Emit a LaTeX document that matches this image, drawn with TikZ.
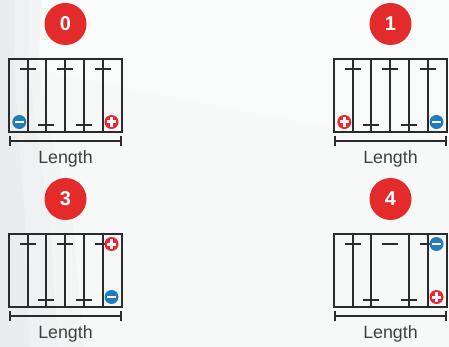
\documentclass[tikz,border=0pt]{standalone}
\usepackage{fontspec}
\setmainfont{Liberation Sans}
\usetikzlibrary{calc}
\definecolor{framecol}{HTML}{2B2B2B}
\definecolor{badgered}{HTML}{E32B2B}
\definecolor{poleblue}{HTML}{1F7DBD}
\definecolor{polered}{HTML}{EA2630}
\definecolor{bgbase}{HTML}{F7F8F8}
\definecolor{bglight}{HTML}{F9FAFA}
\definecolor{bgone}{HTML}{F3F4F4}
\definecolor{bgtwo}{HTML}{EFF0F1}
\definecolor{bgthree}{HTML}{EBECED}
\tikzset{
  x=1pt,y=-1pt,
  case/.style={draw=framecol,line width=1.7pt},
  plate/.style={draw=framecol,line width=1.6pt},
  tick/.style={draw=framecol,line width=1.5pt},
  rulerline/.style={draw=framecol,line width=1.5pt},
  badge/.style={circle,fill=badgered,minimum size=42pt,inner sep=0pt,text=white,font=\fontsize{20}{20}\selectfont\bfseries},
  lengthlabel/.style={text=framecol!90,font=\fontsize{17.8}{18}\selectfont,inner sep=0pt},
  pole/.style={circle,minimum size=14pt,inner sep=0pt}
}
\newcommand{\cellframe}[2]{%
  \begin{scope}[shift={(#1,#2)}]
    \draw[case] (9,59) rectangle (122,132);
    \draw[rulerline] (10,141) -- (121,141);
    \draw[rulerline] (10,136) -- (10,146);
    \draw[rulerline] (121,136) -- (121,146);
  \end{scope}}
\newcommand{\vplate}[3]{\draw[plate] (#1+#3,59+#2) -- (#1+#3,132+#2);}
\newcommand{\toptick}[3]{\draw[tick] (#1+#3-8,69+#2) -- (#1+#3+8,69+#2);}
\newcommand{\bottick}[3]{\draw[tick] (#1+#3-8,125+#2) -- (#1+#3+8,125+#2);}
\newcommand{\minuspole}[3]{\node[pole,fill=poleblue] (#1) at (#2,#3) {};
  \fill[white] ($(#1)+(-4.7,-1.3)$) rectangle ($(#1)+(4.7,1.3)$);}
\newcommand{\pluspole}[3]{\node[pole,fill=polered] (#1) at (#2,#3) {};
  \fill[white] ($(#1)+(-4.7,-1.5)$) rectangle ($(#1)+(4.7,1.5)$);
  \fill[white] ($(#1)+(-1.5,-4.7)$) rectangle ($(#1)+(1.5,4.7)$);}
\begin{document}
\begin{tikzpicture}
\useasboundingbox (0,0) rectangle (449,347);
% background
\fill[bgbase] (0,0) rectangle (449,347);
\fill[bglight] (40,0) -- (449,0) -- (449,140) -- (340,130) -- (120,87) -- (40,70) -- cycle;
\fill[bgone] (0,0) -- (42,0) -- (38,60) -- (50,130) -- (72,218) -- (84,347) -- (0,347) -- cycle;
\fill[bgtwo] (0,0) -- (30,0) -- (28,60) -- (36,130) -- (50,218) -- (58,347) -- (0,347) -- cycle;
\fill[bgthree] (0,0) -- (15,0) -- (14,60) -- (18,130) -- (25,218) -- (29,347) -- (0,347) -- cycle;
% panel 0
\node[badge] (b0) at (65.5,24) {0};
\cellframe{0}{0}
\foreach \v in {28,46,65,84,103}{\vplate{0}{0}{\v}}
\foreach \v in {28,65,103}{\toptick{0}{0}{\v}}
\foreach \v in {46,84}{\bottick{0}{0}{\v}}
\minuspole{m0}{19.3}{122}
\pluspole{p0}{111.5}{122}
\node[lengthlabel] (l0) at (65.5,158.5) {Length};
% panel 1
\node[badge] (b1) at (390.5,24) {1};
\cellframe{325}{0}
\foreach \v in {28,46,65,84,103}{\vplate{325}{0}{\v}}
\foreach \v in {28,65,103}{\toptick{325}{0}{\v}}
\foreach \v in {46,84}{\bottick{325}{0}{\v}}
\pluspole{p1}{344.3}{122}
\minuspole{m1}{436.5}{122}
\node[lengthlabel] (l1) at (390.5,158.5) {Length};
% panel 3
\node[badge] (b3) at (65.5,199) {3};
\cellframe{0}{175}
\foreach \v in {28,46,65,84,103}{\vplate{0}{175}{\v}}
\foreach \v in {28,65,103}{\toptick{0}{175}{\v}}
\foreach \v in {46,84}{\bottick{0}{175}{\v}}
\pluspole{p3}{111.5}{244}
\minuspole{m3}{111.5}{297}
\node[lengthlabel] (l3) at (65.5,333.5) {Length};
% panel 4
\node[badge] (b4) at (390.5,199) {4};
\cellframe{325}{175}
\foreach \v in {28,46,84,103}{\vplate{325}{175}{\v}}
\foreach \v in {28,65,103}{\toptick{325}{175}{\v}}
\foreach \v in {46,84}{\bottick{325}{175}{\v}}
\minuspole{m4}{436.5}{244}
\pluspole{p4}{436.5}{297}
\node[lengthlabel] (l4) at (390.5,333.5) {Length};
\end{tikzpicture}
\end{document}
